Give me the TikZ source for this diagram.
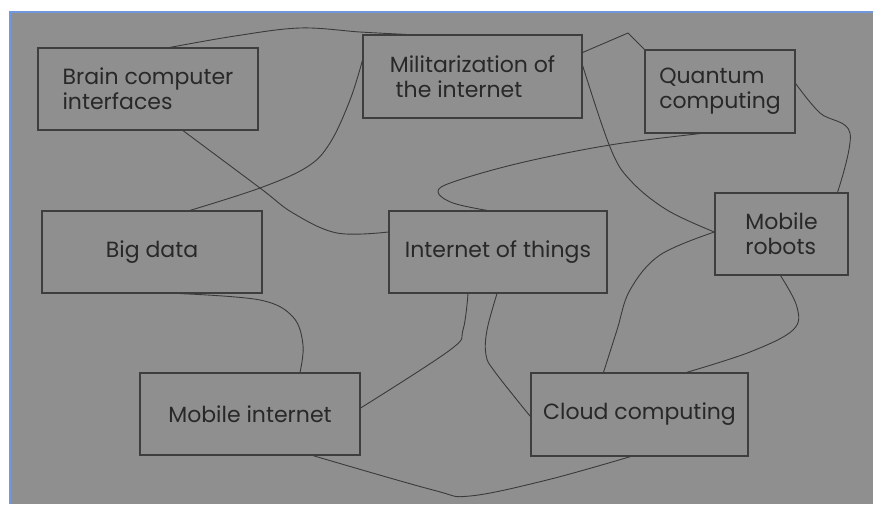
\documentclass[tikz,border=0pt]{standalone}
\usepackage{fontspec}
\setmainfont{Poppins}
\usetikzlibrary{positioning}
\definecolor{bggray}{RGB}{143,143,143}
\definecolor{boxline}{RGB}{62,62,62}
\definecolor{txtgray}{RGB}{40,40,40}
\definecolor{linegray}{RGB}{58,58,58}
\definecolor{frameblue}{RGB}{112,152,222}
\tikzset{
    mybox/.style = {rectangle, draw=boxline, line width=1.2pt, inner sep=0pt, align=left, text=txtgray, font=\fontsize{22}{25}\selectfont},
    edgen/.style = {draw=linegray, line width=0.9pt},
}

\begin{document}
\begin{tikzpicture}[x=1pt,y=-1pt]
\useasboundingbox (0,0) rectangle (873,504);
\fill[white] (0,0) rectangle (873,504);
\fill[bggray] (10,12) rectangle (873,504);
\draw[frameblue, line width=2pt] (10,504) -- (10,12) -- (873,12);

\node[mybox, minimum width=220pt, minimum height=82pt] at (148,89) (brain) {Brain computer\\interfaces};
\node[mybox, minimum width=219pt, minimum height=83pt] at (472.5,76.5) (mil) {Militarization of\\\ the internet};
\node[mybox, minimum width=150pt, minimum height=83pt] at (720,91.5) (quant) {Quantum\\computing};
\node[mybox, minimum width=220pt, minimum height=82pt] at (152,252) (bigdata) {Big data};
\node[mybox, minimum width=218pt, minimum height=82pt] at (498,252) (iot) {Internet of things};
\node[mybox, minimum width=133pt, minimum height=82pt] at (781.5,234) (robots) {Mobile\\robots};
\node[mybox, minimum width=220pt, minimum height=82pt] at (250,414) (mobint) {Mobile internet};
\node[mybox, minimum width=217pt, minimum height=83pt] at (639.5,414.5) (cloud) {Cloud computing};

\draw[edgen] plot[smooth, tension=0.6] coordinates {([xshift=22pt]brain.north) (235,36) (300,28) (360,32) ([xshift=-67pt]mil.north)};
\draw[edgen] plot[smooth, tension=0.6] coordinates {([xshift=35pt]brain.south) (260,188) (293,213) (337,233) ([yshift=20pt]iot.west)};
\draw[edgen] plot[smooth, tension=0.6] coordinates {([yshift=16pt]mil.west) (350,100) (330,143) (307,167) (260,188) ([xshift=38pt]bigdata.north)};
\draw[edgen] ([yshift=24pt]mil.east) -- (628,33) -- (quant.north west);
\draw[edgen] plot[smooth, tension=0.6] coordinates {([yshift=11pt]mil.east) (610,147) (630,180) (667,210) ([yshift=2pt]robots.west)};
\draw[edgen] plot[smooth, tension=0.6] coordinates {([xshift=-20pt]quant.south) (610,145) (520,163) (453,182) (438,192) (453,203) ([xshift=-11pt]iot.north)};
\draw[edgen] plot[smooth, tension=0.6] coordinates {([yshift=8pt]quant.east) (820,113) (850,133) ([xshift=56pt]robots.north)};
\draw[edgen] plot[smooth, tension=0.6] coordinates {([xshift=28pt]bigdata.south) (260,300) (293,317) (303,345) ([xshift=50pt]mobint.north)};
\draw[edgen] plot[smooth, tension=0.6] coordinates {([xshift=-30pt]iot.south) (463,330) (450,350) ([yshift=6pt]mobint.east)};
\draw[edgen] plot[smooth, tension=0.6] coordinates {([xshift=-1pt]iot.south) (487,330) (486,355) (495,372) ([yshift=-2pt]cloud.west)};
\draw[edgen] plot[smooth, tension=0.6] coordinates {([yshift=2pt]robots.west) (660,255) (630,290) (617,330) ([xshift=-36pt]cloud.north)};
\draw[edgen] plot[smooth, tension=0.6] coordinates {([xshift=-1pt]robots.south) (797,307) (793,330) (750,352) ([xshift=47pt]cloud.north)};
\draw[edgen] plot[smooth, tension=0.6] coordinates {([xshift=63pt]mobint.south) (433,490) (470,496) (547,480) ([xshift=-9pt]cloud.south)};

\end{tikzpicture}
\end{document}
